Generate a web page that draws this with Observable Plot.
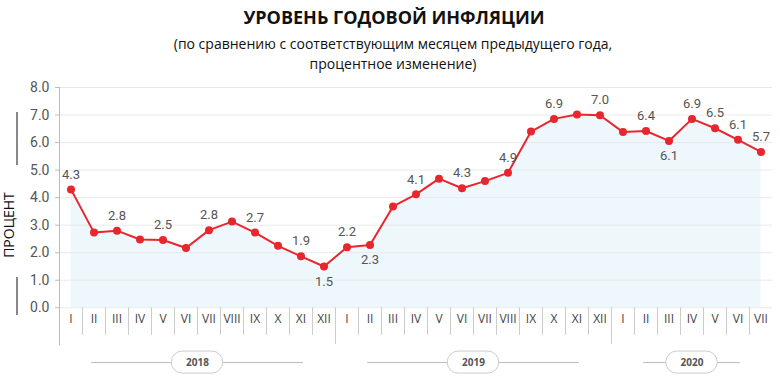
<!DOCTYPE html>
<html>
<head>
<meta charset="utf-8">
<script src="https://cdn.jsdelivr.net/npm/d3@7"></script>
<script src="https://cdn.jsdelivr.net/npm/@observablehq/plot@0.6"></script>
<style>
  html, body { margin: 0; padding: 0; background: #fff; }
  #wrap { position: relative; width: 780px; height: 382px; overflow: hidden; font-family: "Open Sans", sans-serif; }
  #title { position: absolute; top: 4px; left: 0; width: 788px; text-align: center; font-weight: bold; font-size: 18px; color: #111; line-height: 26px; }
  #subtitle { position: absolute; top: 34px; left: 0; width: 786px; text-align: center; font-size: 14px; color: #111; line-height: 20px; }
  #ylab { position: absolute; left: 9px; top: 225px; transform: translate(-50%, -50%) rotate(-90deg); font-family: "Open Sans", sans-serif; font-size: 14px; line-height: 16px; color: #111; white-space: nowrap; }
  .bar { position: absolute; left: 16px; width: 2px; background: #888; }
  #chart { position: absolute; left: 0; top: 75px; }
</style>
</head>
<body>
<div id="wrap">
  <div id="title">УРОВЕНЬ ГОДОВОЙ ИНФЛЯЦИИ</div>
  <div id="subtitle">(по сравнению с соответствующим месяцем предыдущего года,<br>процентное изменение)</div>
  <div class="bar" style="top:112px;height:53px"></div>
  <div class="bar" style="top:277px;height:38px"></div>
  <div id="ylab">ПРОЦЕНТ</div>
  <div id="chart"></div>
</div>
<script>
const monthLabels = ["I","II","III","IV","V","VI","VII","VIII","IX","X","XI","XII",
                     "I","II","III","IV","V","VI","VII","VIII","IX","X","XI","XII",
                     "I","II","III","IV","V","VI","VII"];
const inflation = [4.3, 2.73, 2.8, 2.48, 2.46, 2.17, 2.82, 3.13, 2.73, 2.25, 1.87, 1.5,
                   2.2, 2.28, 3.68, 4.12, 4.69, 4.34, 4.6, 4.9, 6.4, 6.86, 7.02, 6.99,
                   6.38, 6.42, 6.06, 6.86, 6.52, 6.1, 5.66];
const labelsAbove = [0, 2, 4, 6, 8, 10, 12, 15, 17, 19, 21, 23, 25, 27, 28, 29, 30];
const labelsBelow = [11, 13, 26];
const yearLabels = ["2018", "2019", "2020"];
const yearMonthCounts = [12, 12, 7];
const yTicks = [0, 1, 2, 3, 4, 5, 6, 7, 8];

const data = inflation.map((v, i) => ({i, x: i + 0.5, v, m: monthLabels[i]}));
let s = 0;
const years = yearLabels.map((y, k) => {
  const o = {year: y, start: s, end: s + yearMonthCounts[k], mid: s + yearMonthCounts[k] / 2};
  s += yearMonthCounts[k];
  return o;
});
const boundaries = d3.range(1, monthLabels.length);
const yearStarts = new Set(years.map(d => d.start));
const fmt = d3.format(".1f");
const red = "#e8262d";
const YY = -1.99; // year band vertical position (below axis)

const chart = Plot.plot({
  width: 780,
  height: 308,
  marginLeft: 59,
  marginRight: 8,
  marginTop: 12,
  marginBottom: 0,
  style: {fontFamily: "Roboto, sans-serif", background: "transparent", overflow: "visible"},
  x: {type: "linear", domain: [0, monthLabels.length], axis: null},
  y: {domain: [-2.75, 8], axis: null},
  marks: [
    Plot.areaY(data, {x: "x", y: "v", fill: "#eef7fc"}),
    Plot.ruleY(yTicks, {x1: 0, x2: monthLabels.length, stroke: "#e9e9e9", strokeWidth: 1}),
    Plot.ruleY(yTicks, {x1: -0.17, x2: 0, stroke: "#bbb"}),
    Plot.text(yTicks, {x: 0, y: d => d, text: d => fmt(d), dx: -10, textAnchor: "end", fontSize: 14, fill: "#555"}),
    Plot.ruleX([0], {y1: -1.38, y2: 8, stroke: "#bbb"}),
    Plot.ruleX(boundaries, {x: d => d, y1: 0, y2: d => yearStarts.has(d) ? -1.33 : -1.0, stroke: "#ccc"}),
    Plot.text(data, {x: "x", y: -0.42, text: "m", fontSize: 12, fill: "#444", fontFamily: "Open Sans, sans-serif"}),
    Plot.ruleY(years, {y: YY, x1: d => d.start + 1.4, x2: d => d.end - 1.4, stroke: "#bbb"}),
    Plot.rect(years, {x1: d => d.mid - 1.12, x2: d => d.mid + 1.12, y1: YY + 0.4, y2: YY - 0.4, rx: 11, fill: "#fff", stroke: "#ccc"}),
    Plot.text(years, {x: "mid", y: YY, text: "year", fontSize: 10, fontWeight: "bold", fill: "#555", fontFamily: "Open Sans, sans-serif"}),
    Plot.line(data, {x: "x", y: "v", stroke: red, strokeWidth: 2}),
    Plot.dot(data, {x: "x", y: "v", r: 4, fill: red}),
    Plot.text(labelsAbove.map(i => data[i]), {x: "x", y: "v", text: d => fmt(d.v), dy: -15, fontSize: 13, fill: "#555"}),
    Plot.text(labelsBelow.map(i => data[i]), {x: "x", y: "v", text: d => fmt(d.v), dy: 15, fontSize: 13, fill: "#555"})
  ]
});
document.getElementById("chart").appendChild(chart);
</script>
</body>
</html>
